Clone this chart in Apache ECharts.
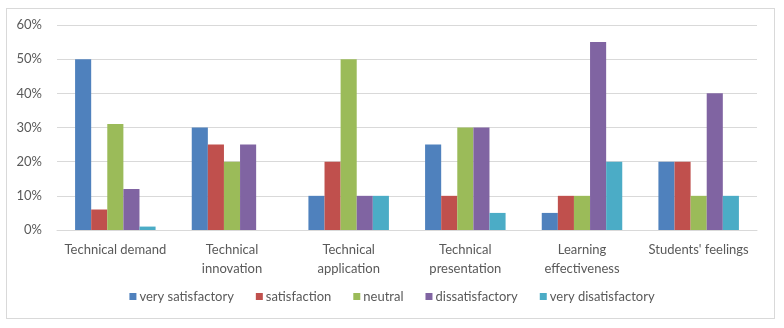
<!DOCTYPE html>
<html><head><meta charset="utf-8">
<script src="https://cdn.jsdelivr.net/npm/echarts@6/dist/echarts.min.js"></script>
<style>
html,body{margin:0;padding:0;background:#fff;}
#frame{position:absolute;left:6px;top:8px;width:769px;height:311px;border:1px solid #D9D9D9;box-sizing:border-box;}
#c{position:absolute;left:0;top:0;width:784px;height:328px;}
</style></head>
<body>
<div id="frame"></div>
<div id="c"></div>
<script>
const categories = ["Technical demand","Technical\ninnovation","Technical\napplication","Technical\npresentation","Learning\neffectiveness","Students' feelings"];
const seriesNames = ["very satisfactory","satisfaction","neutral","dissatisfactory","very disatisfactory"];
const verySatisfactory = [50,30,10,25,5,20];
const satisfaction = [6,25,20,10,10,20];
const neutral = [31,20,50,30,10,10];
const dissatisfactory = [12,25,10,30,55,40];
const veryDisatisfactory = [1,0,10,5,20,10];
const yTicks = [0,10,20,30,40,50,60];
const colors = ["#4F81BD","#C0504D","#9BBB59","#8064A2","#4BACC6"];
const values = [verySatisfactory,satisfaction,neutral,dissatisfactory,veryDisatisfactory];

const font = "Lato";
const chart = echarts.init(document.getElementById('c'));
chart.setOption({
  animation:false,
  color:colors,
  textStyle:{fontFamily:font},
  grid:{left:57,right:27,top:25,bottom:98},
  legend:{
    bottom:20,left:'center',
    itemWidth:7,itemHeight:7,itemGap:22,
    icon:'rect',
    textStyle:{color:'#595959',fontSize:13,fontFamily:font,padding:[0,0,0,-2]},
    data:seriesNames
  },
  xAxis:{
    type:'category',data:categories,
    axisTick:{show:false},
    axisLine:{lineStyle:{color:'#D9D9D9'}},
    axisLabel:{color:'#595959',fontSize:13,fontFamily:font,margin:10,lineHeight:19,interval:0}
  },
  yAxis:{
    type:'value',min:yTicks[0],max:yTicks[yTicks.length-1],interval:10,
    axisLine:{show:false},axisTick:{show:false},
    splitLine:{lineStyle:{color:'#D9D9D9'}},
    axisLabel:{color:'#595959',fontSize:13,fontFamily:font,margin:15,formatter:v=>v+'%'}
  },
  series:seriesNames.map((n,i)=>({
    name:n,type:'bar',data:values[i],
    barGap:'0%',barCategoryGap:'31%'
  }))
});
</script>
</body></html>
